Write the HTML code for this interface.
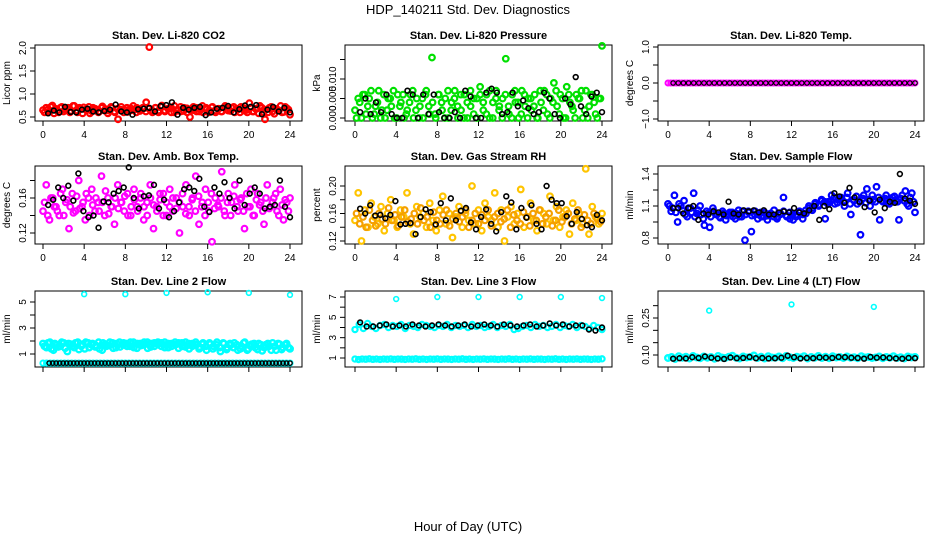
<!DOCTYPE html>
<html><head><meta charset="utf-8"><style>
body{margin:0;background:#fff;}
svg{display:block;font-family:"Liberation Sans",Arial,sans-serif;}
</style></head><body>
<svg id="c" width="936" height="540" viewBox="0 0 936 540">
<rect width="936" height="540" fill="#fff"/>
<text x="468" y="14" text-anchor="middle" font-size="13">HDP_140211  Std. Dev. Diagnostics</text>
<text x="468" y="531" text-anchor="middle" font-size="13">Hour of Day (UTC)</text>
</svg>
<script>
const xTicks=[0,4,8,12,16,20,24];
// Panel 1 CO2
const co2Main=[0.65,0.7,0.62,0.75,0.68,0.6,0.72,0.66,0.7,0.63,0.74,0.6,0.68,0.71,0.65,0.58,0.7,0.66,0.62,0.73,0.67,0.64,0.7,0.6,0.45,0.72,0.66,0.61,0.69,0.65,0.7,0.63,0.68,0.82,2.02,0.6,0.7,0.64,0.75,0.62,0.68,0.7,0.6,0.66,0.72,0.63,0.69,0.5,0.65,0.7,0.62,0.74,0.67,0.6,0.71,0.64,0.68,0.62,0.7,0.66,0.63,0.72,0.68,0.6,0.7,0.65,0.8,0.62,0.68,0.58,0.7,0.45,0.6,0.72,0.57,0.66,0.74,0.61,0.69,0.55];
const co2Main2=[0.6,0.66,0.72,0.58,0.64,0.7,0.62,0.68,0.6,0.74,0.64,0.7,0.58,0.66,0.72,0.62,0.68,0.6,0.7,0.64,0.58,0.72,0.62,0.68,0.66,0.6,0.7,0.64,0.74,0.6,0.66,0.7,0.62,0.68,0.64,0.7,0.6,0.72,0.64,0.68,0.6,0.74,0.66,0.62,0.7,0.6,0.66,0.72,0.62,0.68,0.6,0.7,0.64,0.72,0.6,0.68,0.62,0.74,0.64,0.7,0.6,0.66,0.72,0.64,0.6,0.7,0.62,0.68,0.74,0.6,0.66,0.7,0.62,0.68,0.64,0.6,0.72,0.66];
const co2Black=[0.58,0.64,0.6,0.72,0.61,0.6,0.66,0.68,0.62,0.6,0.63,0.66,0.77,0.62,0.6,0.55,0.67,0.68,0.7,0.62,0.74,0.76,0.82,0.55,0.7,0.66,0.7,0.72,0.54,0.6,0.68,0.7,0.74,0.6,0.67,0.75,0.72,0.76,0.56,0.66,0.72,0.62,0.7,0.6];
// Panel 2 pressure
const presMain=[0.002,0.005,0.0,0.006,0.003,0.007,0.001,0.004,0.0,0.006,0.002,0.005,0.007,0.0,0.003,0.006,0.001,0.004,0.007,0.002,0.0,0.005,0.006,0.003,0.0155,0.001,0.006,0.004,0.0,0.007,0.002,0.005,0.003,0.006,0.0,0.004,0.007,0.001,0.005,0.008,0.002,0.006,0.0,0.004,0.007,0.003,0.005,0.0152,0.001,0.006,0.004,0.0,0.007,0.003,0.005,0.002,0.006,0.0,0.004,0.007,0.001,0.005,0.009,0.003,0.006,0.0,0.008,0.004,0.002,0.006,0.005,0.0,0.007,0.003,0.006,0.001,0.005,0.0185];
const presMain2=[0.0,0.004,0.006,0.001,0.005,0.0,0.003,0.007,0.002,0.0,0.005,0.003,0.0,0.006,0.004,0.0,0.002,0.006,0.0,0.005,0.003,0.0,0.007,0.001,0.004,0.0,0.006,0.002,0.005,0.0,0.004,0.007,0.0,0.002,0.006,0.0,0.003,0.005,0.0,0.006,0.004,0.001,0.007,0.0,0.005,0.002,0.0,0.006,0.003,0.0,0.007,0.004,0.001,0.006,0.0,0.005,0.003,0.0,0.007,0.002,0.006,0.0,0.004,0.007,0.001,0.005,0.0,0.006,0.003,0.0,0.005,0.007,0.002,0.0,0.006,0.004,0.0,0.005];
const presBlack=[0.0015,0.005,0.001,0.004,0.0015,0.006,0.001,0.0,0.0,0.007,0.006,0.0,0.006,0.001,0.006,0.0015,0.0,0.0,0.0015,0.0,0.007,0.0055,0.0,0.0,0.0065,0.0075,0.0065,0.001,0.0015,0.0065,0.003,0.0045,0.0025,0.001,0.0015,0.0065,0.005,0.001,0.0,0.005,0.0035,0.0105,0.003,0.001,0.0055,0.0065,0.0015];
// Panel 3 Li-820 temp
const tempMain=[0,0,0,0,0,0,0,0,0,0,0,0,0,0,0,0,0,0,0,0,0,0,0,0,0,0,0,0,0,0,0,0,0,0,0,0,0,0,0,0,0,0,0,0,0,0,0,0,0,0,0,0,0,0,0,0,0,0,0,0,0,0,0,0,0,0,0,0,0,0,0,0,0,0,0,0,0,0,0,0,0,0,0,0,0,0,0,0,0,0];
const tempBlack=[0,0,0,0,0,0,0,0,0,0,0,0,0,0,0,0,0,0,0,0,0,0,0,0,0,0,0,0,0,0,0,0,0,0,0,0,0,0,0,0,0,0,0,0,0,0,0,0];
// Panel 4 amb box temp
const ambMain=[0.145,0.175,0.135,0.16,0.15,0.14,0.17,0.155,0.125,0.165,0.145,0.18,0.15,0.135,0.16,0.17,0.145,0.155,0.185,0.14,0.16,0.15,0.13,0.175,0.155,0.145,0.165,0.14,0.17,0.15,0.16,0.135,0.155,0.175,0.125,0.15,0.165,0.14,0.155,0.17,0.145,0.16,0.12,0.15,0.175,0.14,0.16,0.185,0.13,0.155,0.17,0.145,0.11,0.16,0.15,0.19,0.14,0.165,0.155,0.175,0.145,0.16,0.125,0.15,0.17,0.14,0.165,0.155,0.13,0.175,0.15,0.16,0.145,0.17,0.135,0.155,0.16];
const ambMain2=[0.155,0.14,0.16,0.15,0.145,0.165,0.14,0.158,0.15,0.143,0.162,0.148,0.155,0.165,0.14,0.152,0.16,0.145,0.155,0.168,0.142,0.15,0.16,0.148,0.155,0.162,0.14,0.15,0.158,0.145,0.165,0.15,0.14,0.16,0.152,0.145,0.158,0.165,0.14,0.15,0.16,0.148,0.155,0.165,0.142,0.15,0.158,0.145,0.162,0.15,0.14,0.155,0.165,0.148,0.152,0.16,0.145,0.155,0.14,0.162,0.15,0.158,0.145,0.165,0.15,0.14,0.158,0.152,0.145,0.16,0.148,0.155,0.165,0.14,0.152,0.158,0.145];
const ambBlack=[0.152,0.158,0.172,0.16,0.174,0.157,0.188,0.145,0.138,0.14,0.126,0.156,0.155,0.165,0.168,0.172,0.195,0.16,0.148,0.162,0.163,0.175,0.148,0.158,0.138,0.145,0.155,0.17,0.172,0.168,0.182,0.15,0.144,0.172,0.165,0.178,0.16,0.148,0.18,0.152,0.165,0.172,0.165,0.148,0.15,0.152,0.18,0.15,0.138];
// Panel 5 gas stream RH
const rhMain=[0.15,0.19,0.12,0.165,0.14,0.175,0.155,0.145,0.17,0.135,0.16,0.18,0.15,0.14,0.165,0.155,0.19,0.145,0.13,0.17,0.155,0.16,0.14,0.175,0.15,0.135,0.165,0.185,0.145,0.16,0.125,0.155,0.17,0.14,0.16,0.15,0.2,0.145,0.165,0.135,0.175,0.155,0.15,0.19,0.14,0.165,0.12,0.155,0.17,0.145,0.16,0.195,0.14,0.155,0.175,0.15,0.135,0.165,0.16,0.145,0.185,0.15,0.17,0.14,0.155,0.165,0.13,0.175,0.15,0.16,0.145,0.225,0.13,0.17,0.155,0.145,0.16];
const rhMain2=[0.16,0.145,0.155,0.14,0.165,0.15,0.142,0.16,0.152,0.145,0.168,0.15,0.158,0.142,0.155,0.165,0.148,0.152,0.16,0.145,0.168,0.15,0.155,0.14,0.162,0.15,0.145,0.158,0.165,0.142,0.152,0.16,0.148,0.155,0.165,0.14,0.15,0.16,0.145,0.158,0.15,0.165,0.142,0.155,0.16,0.148,0.152,0.165,0.14,0.158,0.15,0.145,0.162,0.155,0.142,0.16,0.15,0.165,0.145,0.155,0.16,0.142,0.15,0.165,0.148,0.155,0.16,0.145,0.152,0.165,0.14,0.158,0.15,0.145,0.16,0.152,0.148];
const rhBlack=[0.167,0.16,0.172,0.157,0.158,0.153,0.158,0.178,0.144,0.145,0.146,0.13,0.155,0.166,0.162,0.144,0.175,0.15,0.182,0.15,0.164,0.168,0.147,0.137,0.155,0.166,0.145,0.134,0.162,0.185,0.176,0.137,0.168,0.154,0.172,0.145,0.137,0.2,0.18,0.175,0.175,0.156,0.145,0.162,0.152,0.143,0.14,0.158,0.15];
// Panel 6 sample flow
const sfMain=[1.12,1.05,1.2,0.95,1.1,1.15,1.0,1.08,1.22,1.03,1.1,0.98,1.05,0.9,1.08,1.02,1.0,1.05,0.97,1.02,1.04,0.98,1.06,1.0,0.78,1.05,0.86,1.02,0.98,1.04,1.0,0.97,1.03,1.0,0.98,1.02,1.18,1.0,1.04,0.97,1.02,1.05,0.98,1.03,1.08,1.06,1.12,1.1,1.15,0.98,1.14,1.2,1.12,1.16,1.18,1.1,1.22,1.02,1.15,1.12,0.83,1.2,1.26,1.1,1.16,1.28,0.97,1.14,1.2,1.12,1.18,1.15,0.97,1.2,1.24,1.1,1.22,1.04];
const sfMain2=[1.1,1.08,1.04,1.12,1.06,1.02,1.08,1.04,1.0,1.06,1.02,0.92,1.03,1.0,1.05,1.02,0.99,1.03,1.01,1.04,1.0,1.03,1.0,1.05,1.02,1.04,1.01,1.05,1.02,1.0,1.04,1.01,1.03,1.06,1.0,1.03,1.05,1.01,0.98,1.03,1.0,1.04,1.02,1.06,1.1,1.08,1.13,1.11,1.16,1.14,1.12,1.15,1.18,1.13,1.16,1.14,1.18,1.12,1.16,1.19,1.14,1.17,1.13,1.16,1.2,1.14,1.18,1.15,1.17,1.13,1.16,1.19,1.14,1.17,1.15,1.12,1.18,1.14];
const sfBlack=[1.08,1.08,1.03,1.08,1.1,0.97,1.03,1.02,1.05,1.04,1.02,1.14,1.03,1.02,1.06,1.05,1.06,1.04,1.06,1.02,1.02,1.04,1.05,1.04,1.08,1.04,1.03,1.06,1.1,0.97,1.1,1.07,1.22,1.19,1.13,1.27,1.18,1.14,1.09,1.15,1.04,1.16,1.08,1.14,1.13,1.4,1.17,1.15,1.12];
// Panel 7 line 2 flow
const l2Band=[1.8,1.5,1.9,1.3,1.7,1.6,1.85,1.2,1.75,1.5,1.9,1.6,1.4,1.85,1.7,1.55,1.9,1.3,1.75,1.65,1.85,1.5,1.9,1.7,1.8,1.6,1.9,1.45,1.8,1.7,1.9,1.55,1.85,1.75,1.6,1.9,1.5,1.8,1.7,1.85,1.6,1.9,1.4,1.8,1.7,1.55,1.85,1.3,1.75,1.6,1.9,1.2,1.8,1.5,1.7,1.85,1.3,1.6,1.9,1.4,1.75,1.5,1.8,1.25,1.7,1.6,1.85,1.3,1.75,1.5,1.8,1.4];
const l2Band2=[1.6,1.85,1.4,1.8,1.55,1.9,1.45,1.8,1.6,1.85,1.35,1.75,1.9,1.5,1.8,1.65,1.4,1.85,1.6,1.9,1.45,1.8,1.55,1.85,1.6,1.9,1.5,1.8,1.65,1.9,1.45,1.8,1.6,1.9,1.85,1.5,1.8,1.6,1.9,1.45,1.85,1.55,1.8,1.6,1.9,1.4,1.75,1.6,1.85,1.4,1.7,1.5,1.85,1.35,1.8,1.5,1.7,1.4,1.85,1.3,1.6,1.8,1.35,1.7,1.5,1.8,1.3,1.6,1.8,1.35,1.7,1.5];
const l2Low=[0.3,0.3,0.3,0.3,0.3,0.3,0.3,0.3,0.3,0.3,0.3,0.3,0.3,0.3,0.3,0.3,0.3,0.3,0.3,0.3,0.3,0.3,0.3,0.3,0.3,0.3,0.3,0.3,0.3,0.3,0.3,0.3,0.3,0.3,0.3,0.3,0.3,0.3,0.3,0.3,0.3,0.3,0.3,0.3,0.3,0.3,0.3,0.3,0.3,0.3,0.3,0.3,0.3,0.3,0.3,0.3,0.3,0.3,0.3,0.3,0.3,0.3,0.3,0.3,0.3,0.3,0.3,0.3,0.3,0.3];
const l2OutX=[4,8,12,16,20,24];
const l2Out=[5.6,5.6,5.7,5.75,5.7,5.55];
// Panel 8 line 3 flow
const l3Low=[0.9,0.85,0.9,0.88,0.92,0.87,0.9,0.86,0.9,0.88,0.91,0.87,0.9,0.89,0.86,0.9,0.88,0.92,0.87,0.9,0.86,0.9,0.88,0.91,0.87,0.9,0.89,0.86,0.9,0.88,0.92,0.87,0.9,0.86,0.9,0.88,0.91,0.87,0.9,0.89,0.86,0.9,0.88,0.92,0.87,0.9,0.86,0.9,0.88,0.91,0.87,0.9,0.89,0.86,0.9,0.88,0.92,0.87,0.9,0.86,0.9,0.88,0.91,0.87,0.9,0.89,0.86,0.9,0.88,0.92];
const l3Mid=[3.8,4.3,3.9,4.4,4.1,3.9,4.2,4.3,4.0,4.2,4.1,4.3,3.9,4.2,4.1,4.0,4.3,4.2,4.1,4.0,4.2,4.1,4.3,4.0,4.2,4.1,4.2,4.0,4.3,4.1,4.2,4.0,4.1,4.3,4.0,4.2,4.1,4.3,3.8,3.9,4.1,4.2,4.0,4.3,4.1,4.2,4.0,4.1,4.3,4.0,4.2,4.1,4.3,4.0,4.2,4.1,3.9,4.2,4.0,3.8];
const l3Black=[4.5,4.1,4.1,4.2,4.3,4.1,4.2,4.1,4.3,4.2,4.1,4.2,4.3,4.2,4.1,4.2,4.3,4.1,4.2,4.3,4.2,4.1,4.3,4.2,4.1,4.2,4.3,4.1,4.2,4.4,4.2,4.3,4.1,4.2,4.2,3.8,3.7,4.0];
const l3OutX=[4,8,12,16,20,24];
const l3Out=[6.8,7.0,7.0,7.0,7.0,6.9];
// Panel 9 line 4 flow
const l4Main=[0.088,0.092,0.084,0.095,0.089,0.093,0.086,0.096,0.09,0.087,0.094,0.089,0.092,0.085,0.096,0.09,0.088,0.093,0.097,0.089,0.086,0.094,0.09,0.092,0.098,0.088,0.093,0.086,0.095,0.09,0.089,0.094,0.087,0.096,0.091,0.088,0.093,0.09,0.095,0.086,0.092,0.089,0.096,0.088,0.093,0.087,0.095,0.09,0.092,0.088,0.094,0.089,0.091,0.087,0.095,0.09,0.092,0.088,0.09,0.094,0.087,0.092,0.089,0.095,0.088,0.091,0.086,0.094,0.09,0.092];
const l4Black=[0.085,0.087,0.086,0.091,0.088,0.094,0.089,0.086,0.084,0.09,0.087,0.088,0.092,0.087,0.088,0.086,0.087,0.089,0.097,0.091,0.086,0.088,0.087,0.09,0.089,0.088,0.092,0.091,0.089,0.088,0.085,0.092,0.089,0.09,0.088,0.086,0.085,0.088,0.087];
const l4OutX=[4,12,20];
const l4Out=[0.28,0.305,0.295];

const NS='http://www.w3.org/2000/svg';
const svg=document.getElementById('c');
function mk(tag,attrs,parent){const e=document.createElementNS(NS,tag);for(const k in attrs)e.setAttribute(k,attrs[k]);(parent||svg).appendChild(e);return e;}

const cols=[{l:35,r:302,x0:43,x24:290},{l:345,r:612,x0:355,x24:602},{l:658,r:924,x0:668,x24:915}];
const rows=[{t:45,b:121},{t:166,b:244},{t:291,b:367}];

function panel(name,ci,ri,title,ylab,yv1,py1,yv2,py2,ticks,labels,showX,series){
  const c=cols[ci],r=rows[ri];
  const g=mk('g',{});
  
  
  const X=v=>c.x0+(c.x24-c.x0)*v/24;
  const Y=v=>py1+(py2-py1)*(v-yv1)/(yv2-yv1);
  const t=mk('text',{x:(c.l+c.r)/2,y:r.t-6,'text-anchor':'middle','font-size':'11','font-weight':'bold'},g);
  t.textContent=title;
  
  
  const box=mk('rect',{x:c.l,y:r.t,width:c.r-c.l,height:r.b-r.t,fill:'none',stroke:'#000','stroke-width':1},g);
  
  
  const xa=mk('g',{},g);
  
  
  xTicks.forEach(v=>{
    mk('line',{x1:X(v),x2:X(v),y1:r.b,y2:r.b+5,stroke:'#000'},xa);
    if(showX){const tx=mk('text',{x:X(v),y:r.b+17,'text-anchor':'middle','font-size':'10'},xa);tx.textContent=String(v);}
  });
  const ya=mk('g',{},g);
  
  
  ticks.forEach((v,i)=>{
    const py=Y(v);
    mk('line',{x1:c.l-5,x2:c.l,y1:py,y2:py,stroke:'#000'},ya);
    if(labels[i]){const tx=mk('text',{x:c.l-9,y:py,'text-anchor':'middle','font-size':'10',transform:`rotate(-90 ${c.l-9} ${py})`},ya);tx.textContent=labels[i];}
  });
  const yl=mk('text',{x:c.l-25,y:(r.t+r.b)/2,'text-anchor':'middle','font-size':'10',transform:`rotate(-90 ${c.l-25} ${(r.t+r.b)/2})`},g);
  yl.textContent=ylab;
  
  
  series.forEach(s=>{
    const sg=mk('g',{fill:'none',stroke:s.color,'stroke-width':s.sw||1.6},g);
    
    
    const n=s.y.length;
    s.y.forEach((v,i)=>{
      const xv=s.x?s.x[i]:(s.start||0)+((s.end||24)-(s.start||0))*i/(n-1);
      const p=mk('circle',{cx:X(xv),cy:Y(v),r:s.r||2.4},sg);
      
      
    });
  });
}

panel('co2-panel',0,0,'Stan. Dev. Li-820 CO2','Licor ppm',0.5,117,2.0,48,[0.5,1.0,1.5,2.0],['0.5','1.0','1.5','2.0'],true,
 [{name:'red-series',color:'#ff0000',y:co2Main,r:2.8,sw:2.2},{name:'red-series-2',color:'#ff0000',y:co2Main2,start:0.15,end:23.85,r:2.8,sw:2.2},{name:'black-series',color:'#000',y:co2Black,start:0.5,end:24}]);
panel('pressure-panel',1,0,'Stan. Dev. Li-820 Pressure','kPa',0,118,0.010,79,[0,0.005,0.010,0.015],['0.000','0.005','0.010',''],true,
 [{name:'green-series',color:'#00e000',y:presMain,r:2.8,sw:2.2},{name:'green-series-2',color:'#00e000',y:presMain2,start:0.15,end:23.85,r:2.8,sw:2.2},{name:'black-series',color:'#000',y:presBlack,start:0.5,end:24}]);
panel('temp-panel',2,0,'Stan. Dev. Li-820 Temp.','degrees C',1.0,47,-1.0,119,[-1,-0.5,0,0.5,1],['\u22121.0','','0.0','','1.0'],true,
 [{name:'magenta-series',color:'#ff00ff',y:tempMain,r:2.5,sw:2},{name:'black-series',color:'#000',y:tempBlack,start:0.5,end:24,r:2.2,sw:1.2}]);
panel('amb-temp-panel',0,1,'Stan. Dev. Amb. Box Temp.','degrees C',0.12,233,0.16,198,[0.12,0.14,0.16,0.18],['0.12','','0.16',''],true,
 [{name:'magenta-series',color:'#ff00ff',y:ambMain,r:2.8,sw:2.2},{name:'magenta-series-2',color:'#ff00ff',y:ambMain2,start:0.15,end:23.85,r:2.8,sw:2.2},{name:'black-series',color:'#000',y:ambBlack,start:0.5,end:24}]);
panel('rh-panel',1,1,'Stan. Dev. Gas Stream RH','percent',0.12,241,0.20,186,[0.12,0.14,0.16,0.18,0.20],['0.12','','0.16','','0.20'],true,
 [{name:'orange-series',color:'#ffc400',y:rhMain,r:2.8,sw:2.2},{name:'orange-series-2',color:'#f5a000',y:rhMain2,start:0.15,end:23.85,r:2.8,sw:2.2},{name:'black-series',color:'#000',y:rhBlack,start:0.5,end:24}]);
panel('sample-flow-panel',2,1,'Stan. Dev. Sample Flow','ml/min',0.8,238,1.4,174,[0.8,0.95,1.1,1.25,1.4],['0.8','','1.1','','1.4'],true,
 [{name:'blue-series',color:'#0000ff',y:sfMain,r:2.8,sw:2.2},{name:'blue-series-2',color:'#0000ff',y:sfMain2,start:0.15,end:23.85,r:2.8,sw:2.2},{name:'black-series',color:'#000',y:sfBlack,start:0.5,end:24}]);
panel('line2-panel',0,2,'Stan. Dev. Line 2 Flow','ml/min',1,354,5,302,[1,2,3,4,5],['1','','3','','5'],false,
 [{name:'cyan-band',color:'#00ffff',y:l2Band,r:2.8,sw:2.4},{name:'cyan-band-2',color:'#00ffff',y:l2Band2,start:0.15,end:23.85,r:2.8,sw:2.4},{name:'cyan-outliers',color:'#00ffff',x:l2OutX,y:l2Out},{name:'cyan-low',color:'#00ffff',y:l2Low,r:2.6,sw:2},{name:'black-series',color:'#000',y:l2Low,start:0.6,end:24,r:2.2,sw:1.4}]);
panel('line3-panel',1,2,'Stan. Dev. Line 3 Flow','ml/min',1,358,7,297,[1,2,3,4,5,6,7],['1','','3','','5','','7'],false,
 [{name:'cyan-low',color:'#00ffff',y:l3Low,r:2.6,sw:2.2},{name:'cyan-mid',color:'#00ffff',y:l3Mid,r:2.6,sw:2.2},{name:'cyan-outliers',color:'#00ffff',x:l3OutX,y:l3Out},{name:'black-series',color:'#000',y:l3Black,start:0.5,end:24}]);
panel('line4-panel',2,2,'Stan. Dev. Line 4 (LT) Flow','ml/min',0.10,355,0.25,318,[0.10,0.15,0.20,0.25,0.30],['0.10','','','0.25',''],false,
 [{name:'cyan-series',color:'#00ffff',y:l4Main,r:2.8,sw:2.4},{name:'cyan-outliers',color:'#00ffff',x:l4OutX,y:l4Out},{name:'black-series',color:'#000',y:l4Black,start:0.5,end:24}]);
</script>
</body></html>
